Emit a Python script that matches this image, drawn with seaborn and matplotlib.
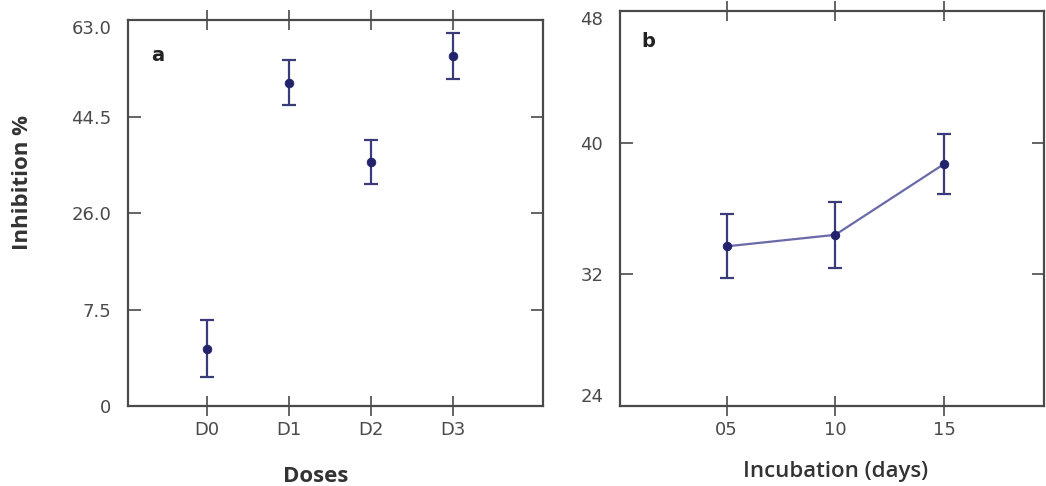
import numpy as np
import matplotlib
matplotlib.use("Agg")
import matplotlib.pyplot as plt
import seaborn as sns

# ── data ─────────────────────────────────────────────────────────────────
doses = ["D0", "D1", "D2", "D3"]
dose_mean = [0.0, 51.0, 35.8, 56.1]
dose_err = [5.4, 4.3, 4.2, 4.4]
# y axis of panel a is labelled oddly in the original: lowest tick says "0"
a_ticks = [-11.0, 7.5, 26.0, 44.5, 63.0]
a_ticklabels = ["0", "7.5", "26.0", "44.5", "63.0"]

days = [5, 10, 15]
day_labels = ["05", "10", "15"]
day_mean = [33.7, 34.4, 38.7]
day_err = [1.95, 2.0, 1.8]
b_ticks = [24, 32, 40, 48]

sns.set_theme(style="white")
plt.rcParams['font.family'] = ['DejaVu Sans']

NAVY = '#23236b'
BAR = '#3b3b7a'
LINE = '#6a6aa8'
SPINE = '#4a4a4a'
TXT = '#4a4a4a'
LABEL_FONT = ['Open Sans', 'DejaVu Sans']

fig = plt.figure(figsize=(10.46, 4.86), dpi=100)
ax_a = fig.add_axes([0.1224, 0.1646, 0.397, 0.7942])
ax_b = fig.add_axes([0.5927, 0.1646, 0.4054, 0.8128])


def style_axes(ax):
    for s in ax.spines.values():
        s.set_visible(True)
        s.set_color(SPINE)
        s.set_linewidth(1.6)
    ax.tick_params(axis='both', which='both', direction='in', length=9,
                   width=1.2, color=SPINE, labelsize=13, labelcolor=TXT,
                   top=True, right=True, left=True, bottom=True)
    ax.tick_params(axis='x', bottom=True, direction='inout', length=14, pad=4)
    ax.tick_params(axis='y', pad=12)


# ── panel a ──────────────────────────────────────────────────────────────
ax_a.errorbar(doses, dose_mean, yerr=dose_err, fmt='none', ecolor=BAR,
              elinewidth=1.6, capsize=5, capthick=1.6)
sns.scatterplot(x=doses, y=dose_mean, ax=ax_a, color=NAVY, s=40,
                edgecolor=NAVY, zorder=3)
ax_a.set_xlim(-0.96, 4.1)
ax_a.set_ylim(-11.0, 63.0)
ax_a.set_yticks(a_ticks)
ax_a.set_yticklabels(a_ticklabels)
style_axes(ax_a)
ax_a.get_yticklabels()[-1].set_verticalalignment('top')
ax_a.set_xlabel('Doses', fontsize=16, fontweight='bold', color='#333333',
                family=LABEL_FONT)
ax_a.xaxis.set_label_coords(0.453, -0.155)
ax_a.set_ylabel('Inhibition %', fontsize=16, fontweight='bold', color='#333333',
                family=LABEL_FONT)
ax_a.yaxis.set_label_coords(-0.229, 0.578)
ax_a.text(0.055, 0.895, 'a', transform=ax_a.transAxes, fontsize=14,
          fontweight='bold', color='#222222')

# ── panel b ──────────────────────────────────────────────────────────────
ax_b.errorbar(days, day_mean, yerr=day_err, fmt='none', ecolor=BAR,
              elinewidth=1.6, capsize=5, capthick=1.6)
sns.lineplot(x=days, y=day_mean, ax=ax_b, color=LINE, lw=1.6, marker='o',
             markersize=6, markerfacecolor=NAVY, markeredgecolor=NAVY, zorder=3)
ax_b.set_xlim(0.1, 19.6)
ax_b.set_ylim(24, 48)
ax_b.set_xticks(days)
ax_b.set_xticklabels(day_labels)
ax_b.set_yticks(b_ticks)
style_axes(ax_b)
ylabs = ax_b.get_yticklabels()
ylabs[-1].set_verticalalignment('top')
ylabs[0].set_verticalalignment('bottom')
ax_b.set_xlabel('Incubation (days)', fontsize=16, fontweight='semibold',
                color='#333333', family=LABEL_FONT)
ax_b.xaxis.set_label_coords(0.509, -0.14)
ax_b.text(0.05, 0.91, 'b', transform=ax_b.transAxes, fontsize=14,
          fontweight='bold', color='#222222')

fig.savefig('out.png', dpi=100)
